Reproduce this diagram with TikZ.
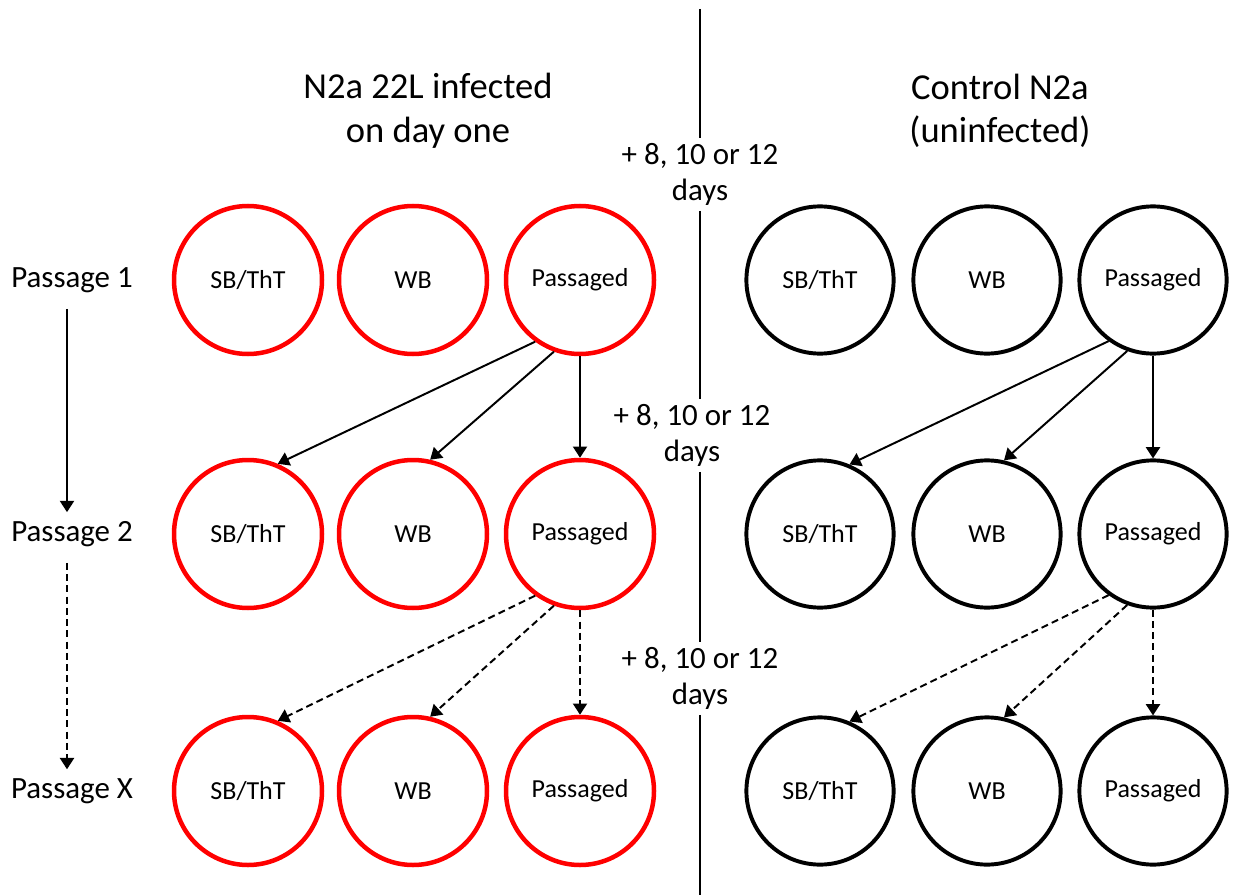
\documentclass[tikz,border=0pt]{standalone}
\usepackage{fontspec}
\setmainfont{Carlito}
\usetikzlibrary{arrows.meta}

\begin{document}
\begin{tikzpicture}[>={Triangle[length=8pt, width=10pt]},
    infected/.style={draw=red, line width=3.2pt, circle, minimum size=3.7cm, font=\fontsize{18.5}{20}\selectfont},
    control/.style={draw=black, line width=2.8pt, circle, minimum size=3.68cm, font=\fontsize{18.5}{20}\selectfont},
    title/.style={align=center, font=\fontsize{26}{31}\selectfont},
    passage/.style={font=\fontsize{22}{26}\selectfont},
    daysbox/.style={align=center, font=\fontsize{22}{26}\selectfont},
    link/.style={->, line width=1.4pt},
    later/.style={->, line width=1.4pt, dash pattern=on 5pt off 3pt}]
    \useasboundingbox (0, 0) rectangle (31, -22.375);

    % Titles
    \node[title] (inftitle) at (10.7, -2.775) {N2a 22L infected\\on day one};
    \node[title] (ctltitle) at (25.0, -2.775) {Control N2a\\(uninfected)};

    % Passage labels
    \node[passage] (pass1) at (1.8, -7.0) {Passage 1};
    \node[passage] (pass2) at (1.8, -13.35) {Passage 2};
    \node[passage] (passx) at (1.8, -19.775) {Passage X};

    % Infected cells
    \node[infected] (infsb1) at (6.2, -7.0) {SB/ThT};
    \node[infected] (infwb1) at (10.325, -7.0) {WB};
    \node[infected] (infpass1) at (14.5, -7.0) {Passaged};
    \node[infected] (infsb2) at (6.2, -13.35) {SB/ThT};
    \node[infected] (infwb2) at (10.325, -13.35) {WB};
    \node[infected] (infpass2) at (14.5, -13.35) {Passaged};
    \node[infected] (infsb3) at (6.2, -19.775) {SB/ThT};
    \node[infected] (infwb3) at (10.325, -19.775) {WB};
    \node[infected] (infpass3) at (14.5, -19.775) {Passaged};

    % Control cells
    \node[control] (ctlsb1) at (20.5, -7.0) {SB/ThT};
    \node[control] (ctlwb1) at (24.675, -7.0) {WB};
    \node[control] (ctlpass1) at (28.825, -7.0) {Passaged};
    \node[control] (ctlsb2) at (20.5, -13.35) {SB/ThT};
    \node[control] (ctlwb2) at (24.675, -13.35) {WB};
    \node[control] (ctlpass2) at (28.825, -13.35) {Passaged};
    \node[control] (ctlsb3) at (20.5, -19.775) {SB/ThT};
    \node[control] (ctlwb3) at (24.675, -19.775) {WB};
    \node[control] (ctlpass3) at (28.825, -19.775) {Passaged};

    % Time between passages
    \node[daysbox] (days1) at (17.5, -4.3625) {+ 8, 10 or 12\\days};
    \node[daysbox] (days2) at (17.3, -10.8875) {+ 8, 10 or 12\\days};
    \node[daysbox] (days3) at (17.5, -16.9625) {+ 8, 10 or 12\\days};

    % Dividing line
    \coordinate (top) at (17.5, -0.225);
    \coordinate (bottom) at (17.5, -22.375);
    \draw[line width=1.2pt] (top) -- (top |- days1.north);
    \draw[line width=1.2pt] (top |- days1.south) -- (top |- days2.north);
    \draw[line width=1.2pt] (top |- days2.south) -- (top |- days3.north);
    \draw[line width=1.2pt] (top |- days3.south) -- (bottom);

    % Passage arrows
    \draw[link, shorten <=8pt, shorten >=3pt] ([xshift=-0.125cm]pass1.south) -- ([xshift=-0.125cm]pass2.north);
    \draw[later, shorten <=8pt, shorten >=3pt] ([xshift=-0.125cm]pass2.south) -- ([xshift=-0.125cm]passx.north);

    % Infected splits
    \draw[link] (infpass1.234) -- (infsb2.67);
    \draw[link] (infpass1.250) -- (infwb2.77);
    \draw[link] (infpass1.south) -- (infpass2.north);
    \draw[later] (infpass2.234) -- (infsb3.67);
    \draw[later] (infpass2.250) -- (infwb3.77);
    \draw[later] (infpass2.south) -- (infpass3.north);

    % Control splits
    \draw[link] (ctlpass1.234) -- (ctlsb2.67);
    \draw[link] (ctlpass1.250) -- (ctlwb2.77);
    \draw[link] (ctlpass1.south) -- (ctlpass2.north);
    \draw[later] (ctlpass2.234) -- (ctlsb3.67);
    \draw[later] (ctlpass2.250) -- (ctlwb3.77);
    \draw[later] (ctlpass2.south) -- (ctlpass3.north);
\end{tikzpicture}
\end{document}
